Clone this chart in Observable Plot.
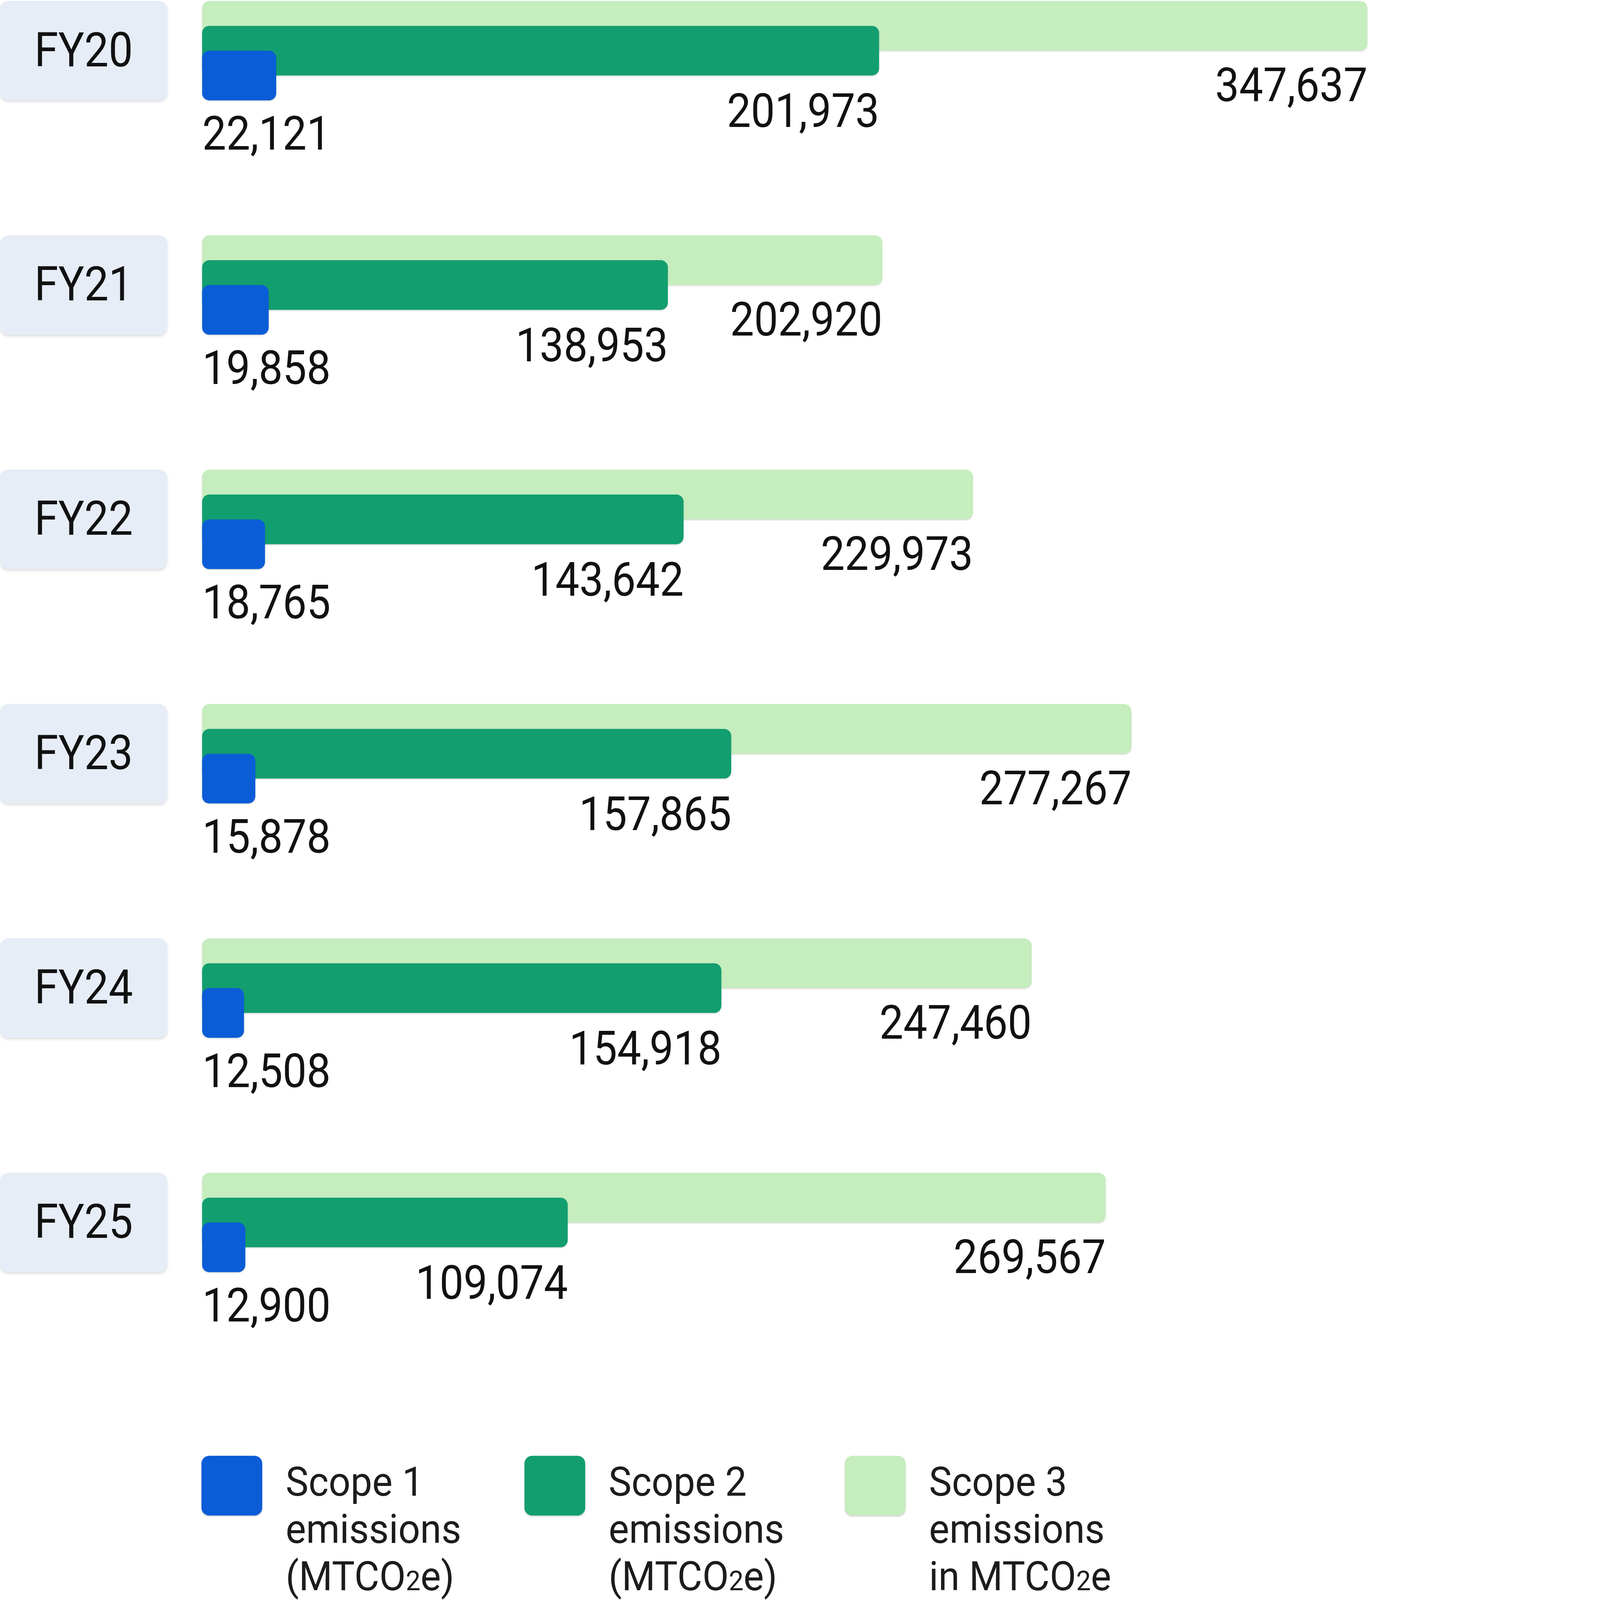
<!DOCTYPE html>
<html>
<head>
<meta charset="utf-8">
<script src="https://cdn.jsdelivr.net/npm/d3@7"></script>
<script src="https://cdn.jsdelivr.net/npm/@observablehq/plot@0.6"></script>
<style>
  html, body { margin: 0; padding: 0; background: #ffffff; overflow: hidden; }
  #page { position: absolute; left: 0; top: 0; width: 4208px; height: 4924px; transform-origin: 0 0; font-family: Roboto, "Noto Sans", sans-serif; }
  #chart svg { display: block; }
  #chart g[aria-label="cell"] rect { filter: drop-shadow(0px 5px 4px rgba(0,0,0,0.13)); }
  #chart g[aria-label="bar"] rect { filter: drop-shadow(0px 3px 2px rgba(0,0,0,0.14)); }
  #legend { position: relative; width: 4208px; height: 444px; }
  .sw { position: absolute; top: 0; width: 187px; height: 184px; border-radius: 24px; box-shadow: 0 3px 3px rgba(0,0,0,0.14); }
  .lt { position: absolute; top: 8px; font-size: 124px; line-height: 145.5px; color: #1c1c1c; white-space: nowrap; }
  .lt div { height: 145.5px; transform: scaleX(0.955); transform-origin: 0 50%; }
  .lt small { font-size: 0.68em; }
</style>
</head>
<body>
<div id="page">
  <div id="chart"></div>
  <div id="legend"></div>
</div>
<script>
// ---- data ----
const years = ["FY20", "FY21", "FY22", "FY23", "FY24", "FY25"];
const scope1 = [22121, 19858, 18765, 15878, 12508, 12900];
const scope2 = [201973, 138953, 143642, 157865, 154918, 109074];
const scope3 = [347637, 202920, 229973, 277267, 247460, 269567];
const seriesNames = ["Scope 1", "Scope 2", "Scope 3"];
const legendLines = [
  ["Scope 1", "emissions", "(MTCO<small>2</small>e)"],
  ["Scope 2", "emissions", "(MTCO<small>2</small>e)"],
  ["Scope 3", "emissions", "in MTCO<small>2</small>e"]
];
const colors = ["#0b5dd7", "#139e6f", "#c5edbe"];

// ---- fit the 4208x4924 design to the window ----
const PW = 4208, PH = 4924;
const fit = Math.min(window.innerWidth / PW, window.innerHeight / PH);
document.getElementById("page").style.transform = `scale(${fit})`;

// ---- tables ----
const rows1 = years.map((y, i) => ({year: y, value: scope1[i]}));
const rows2 = years.map((y, i) => ({year: y, value: scope2[i]}));
const rows3 = years.map((y, i) => ({year: y, value: scope3[i]}));

const W = PW, H = 4480;
const fmt = d3.format(",");
const bw = 306;          // band (group) height
const half = bw / 2;     // one bar height
const fs = 146;

const chart = Plot.plot({
  width: W,
  height: H,
  marginLeft: 0, marginRight: 0, marginTop: 0, marginBottom: 0,
  style: {fontFamily: "Roboto, 'Noto Sans', sans-serif", background: "white", overflow: "visible", maxWidth: "none"},
  x: {domain: [0, d3.max(scope3)], range: [622, W], axis: null},
  y: {type: "band", domain: years, range: [3, 3915], paddingInner: 0.576, paddingOuter: 0, round: false, axis: null},
  marks: [
    // category label boxes
    Plot.cell(years, {y: d => d, fill: "#e6edf7", rx: 26, insetRight: W - 515}),
    Plot.text(years, {y: d => d, text: d => d, frameAnchor: "left", dx: 257, textAnchor: "middle", fontSize: fs + 2, fill: "#111"}),
    // bars
    Plot.barX(rows3, {y: "year", x: "value", fill: colors[2], rx: 22, insetBottom: half}),
    Plot.barX(rows2, {y: "year", x: "value", fill: colors[1], rx: 22, insetTop: half / 2, insetBottom: half / 2}),
    Plot.barX(rows1, {y: "year", x: "value", fill: colors[0], rx: 22, insetTop: half}),
    // value labels
    Plot.text(rows3, {y: "year", x: "value", text: d => fmt(d.value), textAnchor: "end", lineAnchor: "bottom", dy: 155, fontSize: fs, fill: "#111"}),
    Plot.text(rows2, {y: "year", x: "value", text: d => fmt(d.value), textAnchor: "end", lineAnchor: "bottom", dy: 234, fontSize: fs, fill: "#111"}),
    Plot.text(rows1, {y: "year", x: () => 0, text: d => fmt(d.value), textAnchor: "start", lineAnchor: "bottom", dy: 304, fontSize: fs, fill: "#111"})
  ]
});
document.getElementById("chart").appendChild(chart);

// condense the label glyphs horizontally around their anchor point
const squeeze = 0.9;
d3.select(chart).selectAll("text").each(function () {
  const el = this;
  const x = +el.getAttribute("x") || 0;
  const y = +el.getAttribute("y") || 0;
  const t = el.getAttribute("transform") || "";
  el.setAttribute("transform", `${t} translate(${x},${y}) scale(${squeeze},1) translate(${-x},${-y})`);
});

// ---- legend ----
const legend = document.getElementById("legend");
const legendX = [620, 1614, 2600];
seriesNames.forEach((name, i) => {
  const sw = document.createElement("div");
  sw.className = "sw";
  sw.style.left = legendX[i] + "px";
  sw.style.background = colors[i];
  sw.title = name;
  legend.appendChild(sw);
  const t = document.createElement("div");
  t.className = "lt";
  t.style.left = (legendX[i] + 259) + "px";
  t.innerHTML = legendLines[i].map(s => `<div>${s}</div>`).join("");
  legend.appendChild(t);
});
</script>
</body>
</html>
